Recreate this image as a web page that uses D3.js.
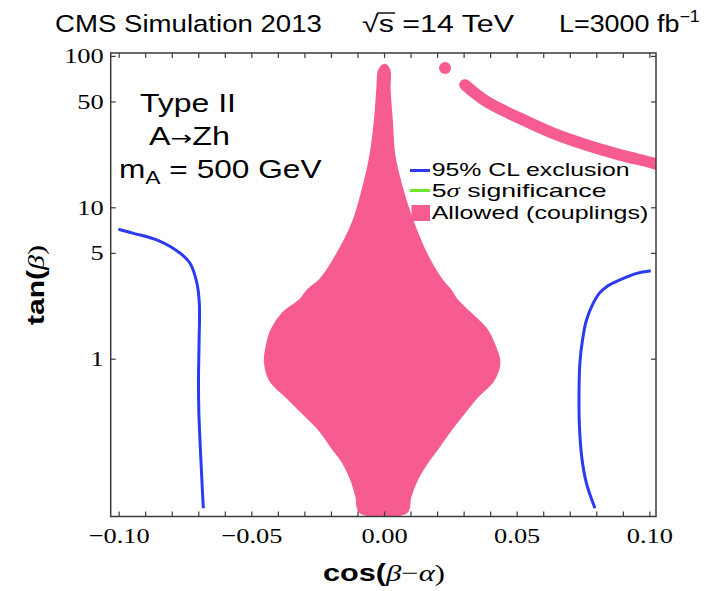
<!DOCTYPE html>
<html>
<head>
<meta charset="utf-8">
<script src="https://cdn.jsdelivr.net/npm/d3@7"></script>
<style>
  body { margin: 0; background: #fff; }
  svg { display: block; }
</style>
</head>
<body>
<svg id="chart" width="710" height="591"></svg>
<script>
// ---- data ---------------------------------------------------------------
// Allowed region from Higgs couplings: for each tanβ, left and right edge in cos(β−α)
const allowedTan   = [87, 80, 61.4, 36.6, 22.2, 13.4, 8.0, 4.84, 3.31, 2.84, 2.44, 2.0, 1.55, 1.195, 0.951, 0.723, 0.558, 0.435, 0.336, 0.261, 0.205, 0.158, 0.122, 0.0972];
const allowedLeft  = [0.0003, -0.0018, -0.0024, -0.0034, -0.0050, -0.0078, -0.0116, -0.0178, -0.0241, -0.0286, -0.0316, -0.0380, -0.0423, -0.0442, -0.0448, -0.0429, -0.0366, -0.0304, -0.0241, -0.0197, -0.0153, -0.0122, -0.0103, -0.0090];
const allowedRight = [0.0003, 0.0020, 0.0020, 0.0029, 0.0038, 0.0067, 0.0108, 0.0161, 0.0217, 0.0249, 0.0274, 0.0324, 0.0387, 0.0418, 0.0434, 0.0412, 0.0349, 0.0299, 0.0249, 0.0205, 0.0161, 0.0123, 0.0098, 0.0085];

// Second allowed branch (wrong-sign region) in the upper right
const bandCos = [0.0305, 0.0387, 0.0512, 0.0638, 0.0763, 0.0889, 0.1013, 0.1080];
const bandTan = [64.3, 49.8, 38.7, 30.8, 25.8, 22.2, 19.6, 18.0];
const loneCos = [0.0230];
const loneTan = [83.2];

// 95% CL exclusion contours
const exclLeftCos  = [-0.1001, -0.0944, -0.0850, -0.0768, -0.0731, -0.0705, -0.0696, -0.0697, -0.0699, -0.0698, -0.0693, -0.0687, -0.0681];
const exclLeftTan  = [7.16, 6.73, 6.02, 4.97, 4.27, 3.15, 2.32, 1.26, 0.761, 0.458, 0.276, 0.166, 0.1028];
const exclRightCos = [0.1005, 0.0952, 0.0889, 0.0839, 0.0811, 0.0788, 0.0763, 0.0748, 0.0738, 0.0735, 0.0736, 0.0745, 0.0763, 0.0795];
const exclRightTan = [3.81, 3.66, 3.31, 2.99, 2.70, 2.32, 1.80, 1.33, 0.932, 0.621, 0.375, 0.225, 0.150, 0.1028];

// Axis ticks
const xTicks = [-0.10, -0.09, -0.08, -0.07, -0.06, -0.05, -0.04, -0.03, -0.02, -0.01, 0.00,
                0.01, 0.02, 0.03, 0.04, 0.05, 0.06, 0.07, 0.08, 0.09, 0.10];
const xLabelled = [-0.10, -0.05, 0.00, 0.05, 0.10];
const yTicks = [1, 5, 10, 50, 100];

// Legend entries
const legendLabels = ["95% CL exclusion", "5σ significance", "Allowed (couplings)"];

// ---- layout -------------------------------------------------------------
const PINK = "#f65b91", BLUE = "#2b3bf0", GREEN = "#6ee62a", FRAME = "#3a3a3a";
const pL = 110.7, pR = 656, pT = 53, pB = 516.5;

const svg = d3.select("#chart");
const x = d3.scaleLinear().domain([-0.103, 0.1025]).range([pL, pR]);
const y = d3.scaleLog().domain([0.0907, 104.5]).range([pB, pT]);

svg.append("defs").append("clipPath").attr("id", "plot")
  .append("rect").attr("x", pL).attr("y", pT)
  .attr("width", pR - pL).attr("height", pB - pT);

const plot = svg.append("g").attr("clip-path", "url(#plot)");

// allowed region: left edge top→bottom, right edge bottom→top (apex shared)
const outline = allowedTan.map((t, i) => [allowedLeft[i], t])
  .concat(allowedTan.slice(1).map((t, i) => [allowedRight[i + 1], t]).reverse());
plot.append("path")
  .attr("d", d3.line().x(d => x(d[0])).y(d => y(d[1])).curve(d3.curveCatmullRomClosed.alpha(0.5))(outline))
  .attr("fill", PINK).attr("stroke", PINK).attr("stroke-width", 2.5)
  .attr("stroke-linejoin", "round");

// upper-right branch
plot.append("path")
  .attr("d", d3.line().x(d => x(d[0])).y(d => y(d[1])).curve(d3.curveCatmullRom)(bandCos.map((c, i) => [c, bandTan[i]])))
  .attr("fill", "none").attr("stroke", PINK).attr("stroke-width", 11.5)
  .attr("stroke-linecap", "round");
plot.selectAll("circle.lone").data(loneCos).enter().append("circle")
  .attr("cx", d => x(d)).attr("cy", (d, i) => y(loneTan[i])).attr("r", 6)
  .attr("fill", PINK);

// exclusion contours
const contour = d3.line().x(d => x(d[0])).y(d => y(d[1])).curve(d3.curveCatmullRom);
plot.append("path").attr("d", contour(exclLeftCos.map((c, i) => [c, exclLeftTan[i]])))
  .attr("fill", "none").attr("stroke", BLUE).attr("stroke-width", 3);
plot.append("path").attr("d", contour(exclRightCos.map((c, i) => [c, exclRightTan[i]])))
  .attr("fill", "none").attr("stroke", BLUE).attr("stroke-width", 3);

// ---- axes ---------------------------------------------------------------
const fmt = d3.format(".2f");
const isLabelled = d => xLabelled.some(v => Math.abs(v - d) < 1e-9);
const TICK = 5, SERIF = "'Liberation Serif', 'Times New Roman', serif";
const SANS = "'Liberation Sans', Arial, sans-serif";
const kSerif = 1.2;

function styleAxis(g) {
  g.select(".domain").remove();
  g.selectAll(".tick line").attr("stroke", FRAME).attr("stroke-width", 1.2);
  g.selectAll("text").attr("font-family", SERIF).attr("font-size", 22).attr("fill", "#000");
}

const xb = svg.append("g").attr("transform", `translate(0,${pB})`)
  .call(d3.axisBottom(x).tickValues(xTicks).tickSize(-TICK).tickPadding(11)
    .tickFormat(d => isLabelled(d) ? fmt(d) : ""));
styleAxis(xb);
xb.selectAll("text").attr("transform", `scale(${kSerif},1)`);

const xt = svg.append("g").attr("transform", `translate(0,${pT})`)
  .call(d3.axisTop(x).tickValues(xTicks).tickSize(-TICK).tickFormat(""));
styleAxis(xt);

const yl = svg.append("g").attr("transform", `translate(${pL},0)`)
  .call(d3.axisLeft(y).tickValues(yTicks).tickSize(-TICK).tickPadding(0).tickFormat(d3.format("d")));
styleAxis(yl);
yl.selectAll("text").attr("x", 0).attr("transform", `translate(-7,0) scale(${kSerif},1)`);

const yr = svg.append("g").attr("transform", `translate(${pR},0)`)
  .call(d3.axisRight(y).tickValues(yTicks).tickSize(-TICK).tickFormat(""));
styleAxis(yr);

svg.append("rect").attr("x", pL).attr("y", pT)
  .attr("width", pR - pL).attr("height", pB - pT)
  .attr("fill", "none").attr("stroke", FRAME).attr("stroke-width", 1.5);

// ---- text helpers ---------------------------------------------------------
// Builds a text inside a group, then stretches it horizontally to the given width.
function placeText(x0, y0, width, opts, build) {
  const g = svg.append("g");
  const t = g.append("text")
    .attr("font-family", opts.family || SANS)
    .attr("font-size", opts.size)
    .attr("font-weight", opts.weight || "normal")
    .attr("text-anchor", opts.anchor || "start")
    .attr("fill", "#000");
  build(t);
  const w = t.node().getBBox().width;
  const k = width / w;
  g.attr("transform", `translate(${x0},${y0})${opts.rotate ? ` rotate(${opts.rotate})` : ""} scale(${k},1)`);
  return { g, t };
}

// header
placeText(55, 32, 267, { size: 24 }, t => t.text("CMS Simulation 2013"));
const rs = placeText(362, 32, 152, { size: 24 }, t => {
  t.append("tspan").text("√");
  t.append("tspan").text("s");
  t.append("tspan").text(" =14 TeV");
});
{
  const n = rs.t.node();
  const a = n.getStartPositionOfChar(1), b = n.getEndPositionOfChar(1);
  const top0 = n.getStartPositionOfChar(0).y - 19;
  rs.g.append("line").attr("x1", a.x - 1).attr("x2", b.x + 1)
    .attr("y1", top0).attr("y2", top0).attr("stroke", "#000").attr("stroke-width", 1.4);
}
placeText(559, 32, 141, { size: 24 }, t => {
  t.append("tspan").text("L=3000 fb");
  t.append("tspan").attr("font-size", 16).attr("dy", -10).text("−1");
});

// in-plot annotation
placeText(140, 112, 96, { size: 25 }, t => t.text("Type II"));
placeText(149, 145, 81, { size: 25 }, t => {
  t.append("tspan").text("A");
  t.append("tspan").attr("font-family", "'DejaVu Sans', sans-serif").attr("font-size", 20).text("→");
  t.append("tspan").text("Zh");
});
placeText(119, 178, 203, { size: 25 }, t => {
  t.append("tspan").text("m");
  t.append("tspan").attr("font-size", 18).attr("dy", 6).text("A");
  t.append("tspan").attr("dy", -6).text(" = 500 GeV");
});

// legend
const legendY = [175.8, 197.2, 219.3];
const legendW = [198, 175, 216.6];
svg.append("line").attr("x1", 410).attr("x2", 430).attr("y1", 170.5).attr("y2", 170.5)
  .attr("stroke", BLUE).attr("stroke-width", 3);
svg.append("line").attr("x1", 410).attr("x2", 430).attr("y1", 190.5).attr("y2", 190.5)
  .attr("stroke", GREEN).attr("stroke-width", 3);
svg.append("rect").attr("x", 411.5).attr("y", 205).attr("width", 18.5).attr("height", 16)
  .attr("fill", PINK);
legendLabels.forEach((lab, i) => {
  placeText(431.7, legendY[i], legendW[i], { size: 19 }, t => {
    if (lab.includes("σ")) {
      t.append("tspan").text("5");
      t.append("tspan").attr("font-family", SERIF).attr("font-style", "italic").text("σ");
      t.append("tspan").text(" significance");
    } else {
      t.text(lab);
    }
  });
});

// axis titles
placeText(384, 581, 122, { size: 24, weight: "bold", anchor: "middle" }, t => {
  t.append("tspan").text("cos(");
  t.append("tspan").attr("font-family", SERIF).attr("font-style", "italic").attr("font-weight", "normal").text("β");
  t.append("tspan").attr("font-family", SERIF).attr("font-weight", "normal").text("−");
  t.append("tspan").attr("font-family", SERIF).attr("font-style", "italic").attr("font-weight", "normal").text("α");
  t.append("tspan").attr("font-family", SERIF).attr("font-weight", "normal").text(")");
});
placeText(44, 285, 80, { size: 24, weight: "bold", anchor: "middle", rotate: -90 }, t => {
  t.append("tspan").text("tan(");
  t.append("tspan").attr("font-family", SERIF).attr("font-style", "italic").attr("font-weight", "normal").text("β");
  t.append("tspan").attr("font-family", SERIF).attr("font-weight", "normal").text(")");
});
</script>
</body>
</html>
